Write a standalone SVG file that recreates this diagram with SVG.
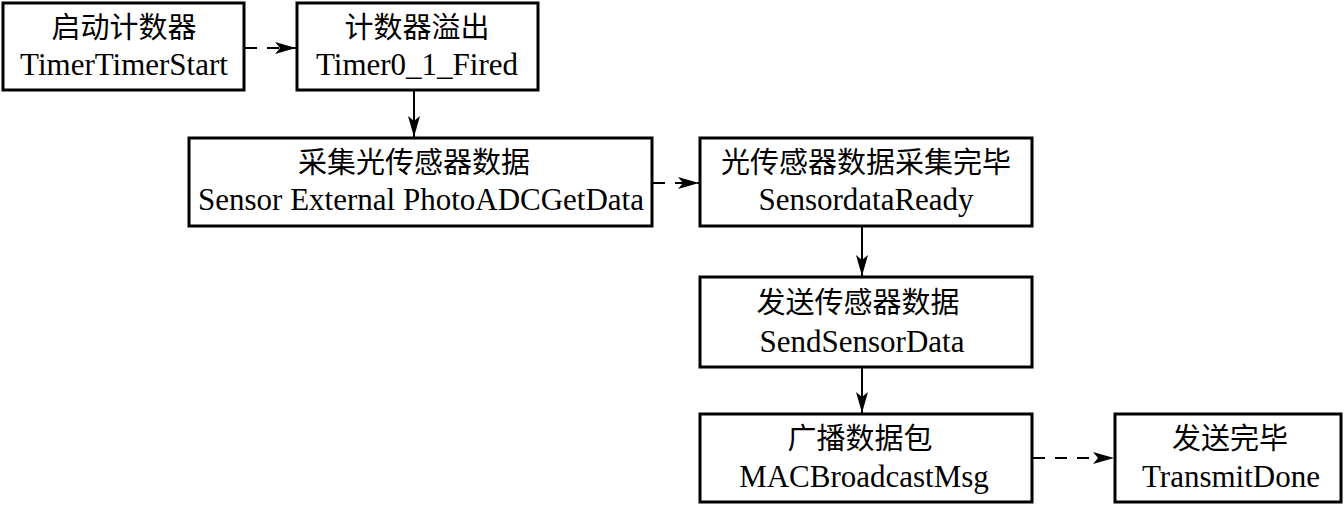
<svg xmlns="http://www.w3.org/2000/svg" width="1344" height="505" viewBox="0 0 1344 505">
<style>
.box{fill:#fff;stroke:#000;stroke-width:3}
.zh{font-family:"Noto Sans CJK SC","Noto Sans CJK TC",sans-serif;font-size:29px;fill:#000;text-anchor:middle}
.en{font-family:"Liberation Serif","Times New Roman",serif;font-size:31px;fill:#000;text-anchor:middle}
.solid{stroke:#000;stroke-width:2;fill:none}
.dash{stroke:#000;stroke-width:2;fill:none;stroke-dasharray:12 10}
</style>
<defs>
<marker id="arr" markerUnits="userSpaceOnUse" markerWidth="22" markerHeight="14" refX="21" refY="7" orient="auto">
<path d="M0,1 L21,7 L0,13 L5,7 z" fill="#000"/>
</marker>
</defs>
<rect width="1344" height="505" fill="#fff"/>
<g id="connectors">
<line class="dash" x1="245" y1="48" x2="296" y2="48" marker-end="url(#arr)"/>
<line class="solid" x1="414" y1="91" x2="414" y2="137" marker-end="url(#arr)"/>
<line class="dash" x1="653" y1="183" x2="699" y2="183" marker-end="url(#arr)"/>
<line class="solid" x1="862" y1="227" x2="862" y2="276" marker-end="url(#arr)"/>
<line class="solid" x1="862" y1="368" x2="862" y2="413" marker-end="url(#arr)"/>
<line class="dash" x1="1033" y1="458" x2="1114" y2="458" marker-end="url(#arr)"/>
</g>
<g id="n1">
<rect class="box" x="3" y="3" width="241" height="87"/>
<text class="zh" x="124" y="38">启动计数器</text>
<text class="en" x="124" y="75">TimerTimerStart</text>
</g>
<g id="n2">
<rect class="box" x="297" y="3" width="241" height="87"/>
<text class="zh" x="417" y="38">计数器溢出</text>
<text class="en" x="417" y="75">Timer0_1_Fired</text>
</g>
<g id="n3">
<rect class="box" x="189" y="138" width="463" height="88"/>
<text class="zh" x="414" y="173">采集光传感器数据</text>
<text class="en" x="421" y="210">Sensor External PhotoADCGetData</text>
</g>
<g id="n4">
<rect class="box" x="700" y="138" width="332" height="88"/>
<text class="zh" x="866" y="173">光传感器数据采集完毕</text>
<text class="en" x="866" y="210">SensordataReady</text>
</g>
<g id="n5">
<rect class="box" x="700" y="277" width="332" height="90"/>
<text class="zh" x="858" y="313">发送传感器数据</text>
<text class="en" x="862" y="352">SendSensorData</text>
</g>
<g id="n6">
<rect class="box" x="700" y="414" width="332" height="88"/>
<text class="zh" x="860" y="449">广播数据包</text>
<text class="en" x="864" y="487">MACBroadcastMsg</text>
</g>
<g id="n7">
<rect class="box" x="1115" y="414" width="226" height="88"/>
<text class="zh" x="1230" y="449">发送完毕</text>
<text class="en" x="1231" y="487">TransmitDone</text>
</g>
</svg>
